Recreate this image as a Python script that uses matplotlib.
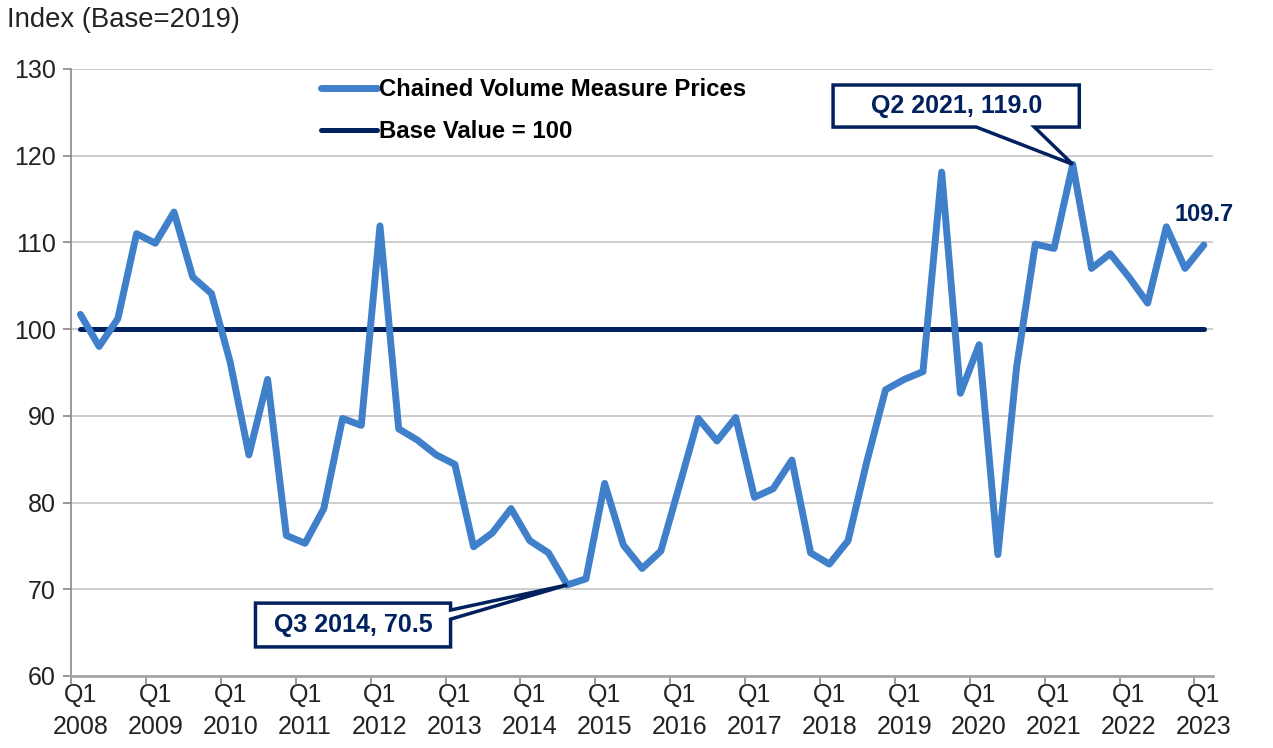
import matplotlib.pyplot as plt
from matplotlib.patches import Polygon
import numpy as np

plt.rcParams['font.family'] = ['Liberation Sans', 'DejaVu Sans']

BLUE = '#4080CA'
NAVY = '#00215E'
GRID = '#C9C9C9'
AXIS = '#888888'

# quarterly index values, Q1 2008 .. Q1 2023
values = [101.7, 98.0, 101.2, 111.0, 109.9, 113.5, 106.0, 104.1,
          96.2, 85.5, 94.2, 76.2, 75.3, 79.3, 89.7, 88.9,
          111.9, 88.5, 87.2, 85.5, 84.4, 74.9, 76.5, 79.3,
          75.6, 74.2, 70.5, 71.2, 82.2, 75.1, 72.4, 74.4,
          82.0, 89.7, 87.1, 89.8, 80.6, 81.6, 84.9, 74.2,
          72.9, 75.6, 84.7, 93.0, 94.2, 95.1, 118.1, 92.6,
          98.2, 74.0, 95.6, 109.8, 109.3, 119.0, 107.0, 108.7,
          106.0, 103.0, 111.8, 107.0, 109.7]
years = list(range(2008, 2024))
base_value = 100

series_label = 'Chained Volume Measure Prices'
base_label = 'Base Value = 100'

FS = 18
FS_B = 17

x = np.arange(len(values))

fig = plt.figure(figsize=(12.73, 7.48), dpi=100)
ax = fig.add_axes([0.0558, 0.0963, 0.8972, 0.8115])

ax.plot(x, [base_value] * len(x), color=NAVY, linewidth=3.6,
        solid_capstyle='round', label=base_label, zorder=3)
ax.plot(x, values, color=BLUE, linewidth=5, solid_joinstyle='round',
        solid_capstyle='round', label=series_label, zorder=4)

ax.set_xlim(-0.5, len(values) - 0.5)
ax.set_ylim(60, 130)
ax.set_yticks(np.arange(60, 131, 10))
ax.grid(axis='y', color=GRID, linewidth=1.3)
ax.set_axisbelow(True)

# tick marks on category boundaries, labels on Q1 categories
ax.set_xticks(np.arange(-0.5, len(values) - 0.5, 4))
ax.set_xticklabels([])
ax.set_xticks(np.arange(0, len(values), 4), minor=True)
ax.set_xticklabels([f'Q1\n{y}' for y in years], minor=True)
for lab in ax.get_xticklabels(minor=True):
    lab.set_linespacing(1.45)
ax.tick_params(axis='x', which='minor', length=0, pad=5, labelsize=FS,
               labelcolor='#222222')
ax.tick_params(axis='x', which='major', length=6, width=1.2, color=AXIS)
ax.tick_params(axis='y', length=6, width=1.2, color=AXIS, labelsize=FS,
               labelcolor='#222222', pad=5)

for s in ['top', 'right']:
    ax.spines[s].set_visible(False)
ax.spines['left'].set_color(AXIS)
ax.spines['left'].set_linewidth(1.2)
ax.spines['bottom'].set_color('#A6A6A6')
ax.spines['bottom'].set_linewidth(2)

handles, labels = ax.get_legend_handles_labels()
leg = ax.legend(handles[::-1], labels[::-1], loc='upper left',
                bbox_to_anchor=(0.2, 1.02), frameon=False,
                prop={'weight': 'bold', 'size': 17.2}, handlelength=2.35,
                handletextpad=0.1, labelspacing=0.78)

fig.text(7 / 1273, 1 - 20 / 748, 'Index (Base=2019)', fontsize=19.8,
         va='center', ha='left', color='#222222')


def callout(text, tip, box, base):
    # box = (x0, x1, y0, y1) in data units; base = two points where the pointer leaves the box
    x0, x1, y0, y1 = box
    (bx0, by0), (bx1, by1) = base
    if by0 == by1:  # pointer leaves from the bottom edge
        pts = [(x0, y1), (x1, y1), (x1, y0), (bx1, y0), tip, (bx0, y0), (x0, y0)]
    else:  # pointer leaves from the right edge
        pts = [(x0, y1), (x1, y1), (x1, by0), tip, (x1, by1), (x1, y0), (x0, y0)]
    ax.add_patch(Polygon(pts, closed=True, fc='white', ec=NAVY, lw=2.5,
                         joinstyle='miter', zorder=6, clip_on=False))
    ax.text((x0 + x1) / 2, (y0 + y1) / 2, text, ha='center', va='center',
            fontsize=18, fontweight='bold', color=NAVY, zorder=7)


i_max = int(np.argmax(values))
i_min = int(np.argmin(values))
callout(f'Q2 2021, {values[i_max]:.1f}', (i_max, values[i_max]),
        (40.2, 53.35, 123.3, 128.15), ((47.85, 123.3), (50.95, 123.3)))
callout(f'Q3 2014, {values[i_min]:.1f}', (i_min, values[i_min]),
        (9.35, 19.77, 63.35, 68.4), ((19.77, 67.6), (19.77, 66.55)))

ax.annotate(f'{values[-1]:.1f}', xy=(x[-1], values[-1]), xytext=(0, 22),
            textcoords='offset points', ha='center', va='center',
            fontsize=FS_B, fontweight='bold', color=NAVY, zorder=6)

fig.savefig('out.png', dpi=100)
